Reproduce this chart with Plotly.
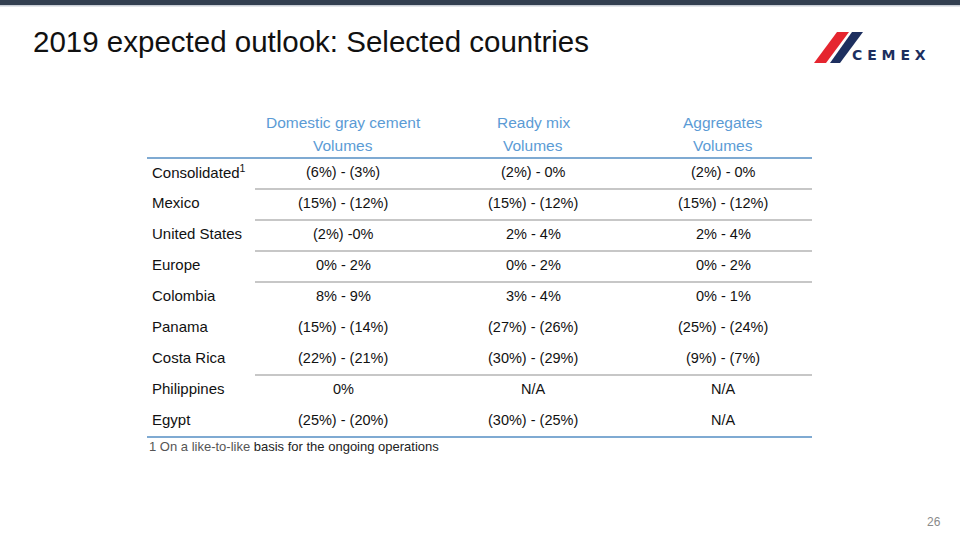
import plotly.graph_objects as go

# ---- data ----
title = "2019 expected outlook: Selected countries"
col_headers = ["Domestic gray cement", "Ready mix", "Aggregates"]
col_subheaders = ["Volumes", "Volumes", "Volumes"]
countries = ["Consolidated<sup>1</sup>", "Mexico", "United States", "Europe", "Colombia",
             "Panama", "Costa Rica", "Philippines", "Egypt"]
cement = ["(6%) - (3%)", "(15%) - (12%)", "(2%) -0%", "0% - 2%", "8% - 9%",
          "(15%) - (14%)", "(22%) - (21%)", "0%", "(25%) - (20%)"]
ready_mix = ["(2%) - 0%", "(15%) - (12%)", "2% - 4%", "0% - 2%", "3% - 4%",
             "(27%) - (26%)", "(30%) - (29%)", "N/A", "(30%) - (25%)"]
aggregates = ["(2%) - 0%", "(15%) - (12%)", "2% - 4%", "0% - 2%", "0% - 1%",
              "(25%) - (24%)", "(9%) - (7%)", "N/A", "N/A"]
separator_after = [0, 1, 2, 3, 6]  # rows followed by a grey rule
footnote_a = "1 On a like-to-like"
footnote_b = " basis for the ongoing operations"
page_number = "26"

# ---- layout constants ----
FONT = "Liberation Sans, Arial, sans-serif"
HEAD_BLUE = "#5b9bd5"
RULE_BLUE = "#7faad2"
RULE_GREY = "#b4b4b4"
col_x = [343, 533, 723]
label_x = 150
row0_y, pitch = 171.5, 31
rule0_y = 189
table_left, sep_left, table_right = 147, 255, 812

fig = go.Figure()
fig.add_trace(go.Scatter(x=[0, 960], y=[0, 540], mode="markers",
                         marker=dict(opacity=0), hoverinfo="skip", showlegend=False))

ann = []
shapes = []

# top bar
shapes.append(dict(type="rect", xref="x", yref="y", x0=0, x1=960, y0=0, y1=5,
                   fillcolor="#333f50", line=dict(width=0), layer="above"))
shapes.append(dict(type="rect", xref="x", yref="y", x0=0, x1=960, y0=5, y1=6.5,
                   fillcolor="#c9ced6", line=dict(width=0), layer="above"))

# title
ann.append(dict(x=31, y=41.5, text=title, xanchor="left", yanchor="middle", showarrow=False,
                font=dict(family=FONT, size=29.5, color="#111111")))

# logo
shapes.append(dict(type="path", xref="x", yref="y",
                   path="M 814 63 L 826 63 L 849 32 L 837 32 Z",
                   fillcolor="#e5252f", line=dict(width=0)))
shapes.append(dict(type="path", xref="x", yref="y",
                   path="M 830 63 L 840 63 L 863 32 L 852 32 Z",
                   fillcolor="#1d2f5f", line=dict(width=0)))
ann.append(dict(x=889, y=55, text="C E M E X", xanchor="center", yanchor="middle",
                showarrow=False, font=dict(family="DejaVu Sans", size=14, color="#1d2f5f",
                                           weight="bold")))

# headers
for cx, h1, h2 in zip(col_x, col_headers, col_subheaders):
    ann.append(dict(x=cx, y=122, text=h1, xanchor="center", yanchor="middle", showarrow=False,
                    font=dict(family=FONT, size=15.5, color=HEAD_BLUE)))
    ann.append(dict(x=cx, y=145, text=h2, xanchor="center", yanchor="middle", showarrow=False,
                    font=dict(family=FONT, size=15.5, color=HEAD_BLUE)))

# header rule & bottom rule
shapes.append(dict(type="line", xref="x", yref="y", x0=table_left, x1=table_right, y0=158, y1=158,
                   line=dict(color=RULE_BLUE, width=2)))
bottom_y = rule0_y + pitch * (len(countries) - 1)
shapes.append(dict(type="line", xref="x", yref="y", x0=table_left, x1=table_right,
                   y0=bottom_y, y1=bottom_y, line=dict(color=RULE_BLUE, width=2)))

# rows
for i, (c, a, b, g) in enumerate(zip(countries, cement, ready_mix, aggregates)):
    yy = row0_y + pitch * i
    ann.append(dict(x=label_x, y=yy, text=c, xanchor="left", yanchor="middle", showarrow=False,
                    font=dict(family=FONT, size=15, color="#111111")))
    for cx, v in zip(col_x, (a, b, g)):
        ann.append(dict(x=cx, y=yy, text=v, xanchor="center", yanchor="middle", showarrow=False,
                        font=dict(family=FONT, size=14.5, color="#111111")))
for r in separator_after:
    ly = rule0_y + pitch * r
    shapes.append(dict(type="line", xref="x", yref="y", x0=sep_left, x1=table_right,
                       y0=ly, y1=ly, line=dict(color=RULE_GREY, width=1.5)))

# footnote
ann.append(dict(x=147, y=446, xanchor="left", yanchor="middle", showarrow=False,
                text=f"<span style='color:#555555'>{footnote_a}</span>{footnote_b}",
                font=dict(family=FONT, size=13, color="#222222")))

# page number
ann.append(dict(x=934, y=522, text=page_number, xanchor="center", yanchor="middle",
                showarrow=False, font=dict(family=FONT, size=12, color="#8a8a8a")))

for a in ann:
    a.setdefault("xref", "x")
    a.setdefault("yref", "y")

fig.update_layout(
    width=960, height=540,
    margin=dict(l=0, r=0, t=0, b=0),
    paper_bgcolor="white", plot_bgcolor="white",
    xaxis=dict(range=[0, 960], visible=False, fixedrange=True),
    yaxis=dict(range=[540, 0], visible=False, fixedrange=True),
    annotations=ann, shapes=shapes,
    showlegend=False,
)

fig.write_html("out.html", config={"displayModeBar": False},
               post_script="document.body.style.margin='0';document.body.style.padding='0';")
